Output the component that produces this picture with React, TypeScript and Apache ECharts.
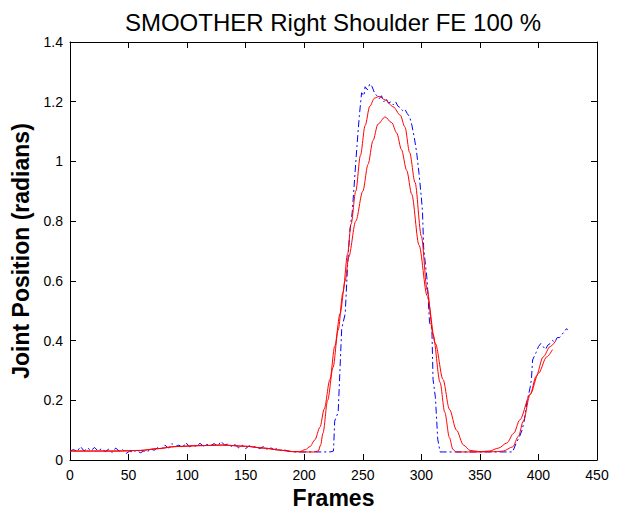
import React, { useEffect, useRef } from "react";
import * as echarts from "echarts";

const chartTitle = "SMOOTHER Right Shoulder FE 100 %";
const xName = "Frames";
const yName = "Joint Position (radians)";
const xRange = [0, 450, 50];
const yRange = [0, 1.4, 0.2];

// measured joint position (blue, dash-dot)
const measured: [number, number][] = [
  [0, 0.03], [3, 0.035], [6, 0.028], [9, 0.045], [12, 0.03], [15, 0.04], [18, 0.032], [21, 0.042],
  [24, 0.03], [27, 0.038], [30, 0.028], [33, 0.036], [36, 0.025], [39, 0.04], [42, 0.03], [45, 0.035],
  [48, 0.022], [51, 0.03], [54, 0.026], [57, 0.033], [60, 0.024], [63, 0.03], [66, 0.028], [69, 0.036],
  [72, 0.033], [75, 0.042], [78, 0.038], [81, 0.05], [84, 0.04], [87, 0.055], [90, 0.045], [93, 0.05],
  [96, 0.042], [99, 0.058], [102, 0.044], [105, 0.05], [108, 0.045], [111, 0.056], [114, 0.046],
  [117, 0.052], [120, 0.048], [123, 0.055], [126, 0.047], [129, 0.062], [132, 0.05], [135, 0.054],
  [138, 0.045], [141, 0.052], [144, 0.04], [147, 0.05], [150, 0.038], [153, 0.048], [156, 0.042],
  [159, 0.046], [162, 0.038], [165, 0.045], [168, 0.036], [171, 0.042], [174, 0.035], [177, 0.038],
  [180, 0.032], [183, 0.034], [186, 0.03], [189, 0.028], [192, 0.027], [200, 0.027], [210, 0.027],
  [222, 0.027], [225, 0.03], [226, 0.13], [229, 0.16], [232, 0.44], [235, 0.49], [237, 0.65],
  [239, 0.77], [241, 0.83], [243, 0.94], [245, 1.05], [247, 1.15], [249, 1.23], [251, 1.22],
  [252, 1.25], [254, 1.24], [256, 1.26], [258, 1.25], [260, 1.23], [262, 1.22], [264, 1.21],
  [266, 1.22], [268, 1.2], [270, 1.21], [272, 1.195], [274, 1.2], [276, 1.19], [278, 1.2],
  [280, 1.185], [282, 1.18], [284, 1.17], [286, 1.175], [288, 1.16], [290, 1.15], [292, 1.12],
  [294, 1.08], [296, 1.03], [298, 0.96], [300, 0.88], [301, 0.83], [302, 0.71], [305, 0.6],
  [307, 0.46], [309, 0.44], [310, 0.27], [312, 0.21], [314, 0.07], [316, 0.027], [340, 0.027],
  [360, 0.027], [378, 0.027], [381, 0.057], [384, 0.08], [386, 0.1], [388, 0.134], [390, 0.19],
  [393, 0.245], [394, 0.27], [395, 0.335], [398, 0.36], [400, 0.38], [402, 0.39], [404, 0.38],
  [406, 0.37], [408, 0.385], [410, 0.39], [412, 0.4], [414, 0.395], [416, 0.41], [418, 0.41],
  [420, 0.42], [422, 0.43], [424, 0.44], [425, 0.435],
];

// smoother output, narrower window (red)
const smoothNarrow: [number, number][] = [
  [0, 0.03], [20, 0.03], [40, 0.03], [60, 0.032], [75, 0.038], [90, 0.045], [110, 0.048],
  [130, 0.05], [150, 0.046], [165, 0.04], [180, 0.033], [190, 0.028], [200, 0.027], [208, 0.027],
  [212, 0.03], [214, 0.05], [216, 0.09], [220, 0.2], [224.6, 0.31], [229, 0.435], [233, 0.56],
  [237, 0.69], [240, 0.79], [244, 0.9], [248, 1.02], [252, 1.12], [256, 1.185], [260, 1.212],
  [264, 1.218], [269, 1.206], [276, 1.183], [282, 1.155], [286, 1.115], [290, 1.03], [294.6, 0.93],
  [300, 0.75], [305, 0.57], [310, 0.42], [316, 0.26], [320, 0.16], [324, 0.075], [327, 0.035],
  [330, 0.027], [350, 0.027], [365, 0.028], [370, 0.03], [378, 0.044], [383, 0.08], [387, 0.13],
  [393, 0.22], [398, 0.28], [404, 0.345], [410, 0.38], [415, 0.4],
];

// smoother output, wider window (red)
const smoothWide: [number, number][] = [
  [0, 0.03], [20, 0.03], [40, 0.03], [60, 0.032], [75, 0.038], [90, 0.045], [110, 0.048],
  [130, 0.05], [150, 0.046], [165, 0.04], [180, 0.033], [190, 0.028], [196, 0.028], [201, 0.035],
  [205, 0.045], [209, 0.067], [213.5, 0.11], [217, 0.17], [222, 0.27], [226, 0.38], [230.6, 0.49],
  [235, 0.6], [238, 0.68], [244, 0.8], [250, 0.9], [254.5, 0.99], [258.7, 1.07], [263, 1.125],
  [269, 1.149], [274.7, 1.13], [279, 1.095], [283, 1.04], [287.5, 0.97], [291.8, 0.89], [298, 0.72],
  [305, 0.55], [312, 0.39], [318.5, 0.27], [324, 0.17], [330, 0.1], [336, 0.05], [341.6, 0.032],
  [350, 0.028], [358, 0.03], [366, 0.04], [373, 0.057], [379, 0.09], [384, 0.134], [393, 0.22],
  [400, 0.29], [407, 0.345], [412, 0.37],
];

const FONT = "'Liberation Sans', Arial, Helvetica, sans-serif";

export default function App() {
  const ref = useRef<HTMLDivElement>(null);
  useEffect(() => {
    if (!ref.current) return;
    const chart = echarts.init(ref.current, null, { renderer: "svg" });
    const axisCommon = {
      axisLine: { show: true, onZero: false, lineStyle: { color: "#000", width: 1 } },
      axisTick: { show: true, inside: true, length: 6, lineStyle: { color: "#000" } },
      splitLine: { show: false },
    };
    const xAxisBase = {
      type: "value" as const,
      min: xRange[0],
      max: xRange[1],
      interval: xRange[2],
      ...axisCommon,
    };
    const yAxisBase = {
      type: "value" as const,
      min: yRange[0],
      max: yRange[1],
      interval: yRange[2],
      ...axisCommon,
    };
    chart.setOption({
      animation: false,
      backgroundColor: "#fff",
      title: {
        text: chartTitle,
        left: 328,
        textAlign: "center",
        top: 5,
        textStyle: { fontFamily: FONT, fontSize: 24, fontWeight: "normal", color: "#000" },
      },
      grid: { left: 70, right: 23, top: 42, bottom: 50, outerBoundsMode: "none", containLabel: false },
      xAxis: [
        {
          ...xAxisBase,
          position: "bottom",
          name: xName,
          nameLocation: "middle",
          nameGap: 21,
          nameTextStyle: { fontFamily: FONT, fontSize: 23, fontWeight: "bold", color: "#000" },
          axisLabel: { fontFamily: FONT, fontSize: 14, color: "#000", margin: 8 },
        },
        { ...xAxisBase, position: "top", axisLabel: { show: false } },
      ],
      yAxis: [
        {
          ...yAxisBase,
          position: "left",
          name: yName,
          nameLocation: "middle",
          nameGap: 31,
          nameTextStyle: { fontFamily: FONT, fontSize: 23, fontWeight: "bold", color: "#000" },
          axisLabel: { fontFamily: FONT, fontSize: 14, color: "#000", margin: 7 },
        },
        { ...yAxisBase, position: "right", axisLabel: { show: false } },
      ],
      series: [
        {
          type: "line",
          data: measured,
          showSymbol: false,
          lineStyle: { color: "#0000ff", width: 1, type: [7, 3, 2, 3] },
          z: 2,
        },
        {
          type: "line",
          data: smoothNarrow,
          showSymbol: false,
          smooth: 0.3,
          smoothMonotone: "x",
          lineStyle: { color: "#ff0000", width: 1 },
          z: 3,
        },
        {
          type: "line",
          data: smoothWide,
          showSymbol: false,
          smooth: 0.3,
          smoothMonotone: "x",
          lineStyle: { color: "#ff0000", width: 1 },
          z: 3,
        },
      ],
    });
    return () => chart.dispose();
  }, []);
  return (
    <div
      ref={ref}
      style={{ position: "absolute", left: 0, top: 0, width: 620, height: 510, background: "#fff" }}
    />
  );
}
